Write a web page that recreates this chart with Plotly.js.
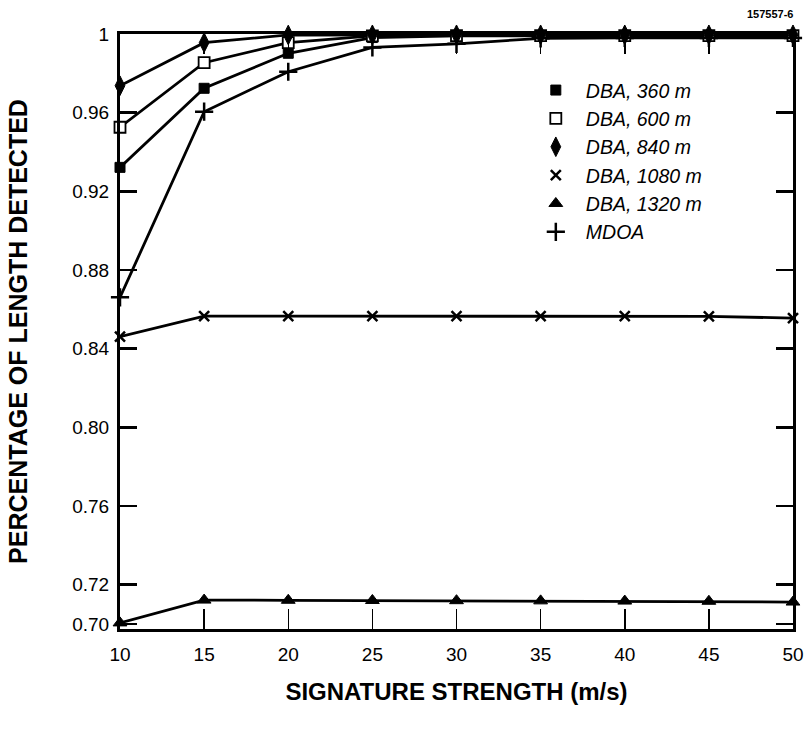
<!DOCTYPE html>
<html>
<head>
<meta charset="utf-8">
<script src="https://cdn.plot.ly/plotly-3.0.1.min.js"></script>
<style>html,body{margin:0;padding:0;background:#fff;}#chart{width:809px;height:736px;}</style>
</head>
<body>
<div id="chart"></div>
<script>
// Data
const signatureStrength = [10, 15, 20, 25, 30, 35, 40, 45, 50];
const dba360  = [0.9322, 0.9724, 0.9902, 0.9982, 0.9990, 0.9992, 0.9992, 0.9992, 0.9992];
const dba600  = [0.9526, 0.9854, 0.9956, 0.9990, 0.9992, 0.9992, 0.9992, 0.9992, 0.9992];
const dba840  = [0.9737, 0.9956, 0.9995, 0.9996, 0.9996, 0.9996, 0.9996, 0.9996, 0.9996];
const dba1080 = [0.8461, 0.8566, 0.8566, 0.8566, 0.8566, 0.8566, 0.8566, 0.8564, 0.8556];
const dba1320 = [0.7006, 0.7122, 0.7121, 0.7120, 0.7119, 0.7118, 0.7117, 0.7116, 0.7112];
const mdoa    = [0.8661, 0.9605, 0.9808, 0.9932, 0.9950, 0.9978, 0.9980, 0.9980, 0.9980];

const seriesNames = ['DBA, 360 m', 'DBA, 600 m', 'DBA, 840 m', 'DBA, 1080 m', 'DBA, 1320 m', 'MDOA'];
const seriesValues = [dba360, dba600, dba840, dba1080, dba1320, mdoa];

const xTickVals = [10, 15, 20, 25, 30, 35, 40, 45, 50];
const yTickVals = [0.70, 0.72, 0.76, 0.80, 0.84, 0.88, 0.92, 0.96, 1.0];
const yTickText = ['0.70', '0.72', '0.76', '0.80', '0.84', '0.88', '0.92', '0.96', '1'];

const markerStyles = [
  {symbol: 'square', size: 10, color: '#000', line: {color: '#000', width: 1}},
  {symbol: 'square', size: 11, color: '#fff', line: {color: '#000', width: 1.8}},
  {symbol: 'diamond-tall', size: 14, color: '#000', line: {color: '#000', width: 1}},
  {symbol: 'x-thin', size: 10, color: '#000', line: {color: '#000', width: 2.5}},
  {symbol: 'triangle-up', size: 12, color: '#000', line: {color: '#000', width: 1}},
  {symbol: 'cross-thin', size: 13, color: '#000', line: {color: '#000', width: 2.5}}
];

const traces = [];
seriesValues.forEach((vals, i) => {
  traces.push({
    x: signatureStrength, y: vals, type: 'scatter', mode: 'lines',
    line: {color: '#000', width: 2.8}, showlegend: false, hoverinfo: 'skip'
  });
});
seriesValues.forEach((vals, i) => {
  traces.push({
    x: signatureStrength, y: vals, type: 'scatter', mode: 'markers',
    name: seriesNames[i], legendgroup: 'g' + i,
    marker: markerStyles[i],
    cliponaxis: false
  });
});

const layout = {
  width: 809, height: 736,
  margin: {l: 120, r: 16, t: 34, b: 107},
  paper_bgcolor: '#fff', plot_bgcolor: '#fff',
  font: {family: 'Liberation Sans, Arial, sans-serif', color: '#000', size: 19},
  showlegend: true,
  legend: {
    x: 0.603, y: 0.938, xanchor: 'left', yanchor: 'top',
    bgcolor: 'rgba(0,0,0,0)', borderwidth: 0,
    font: {family: 'Liberation Sans, Arial, sans-serif', size: 19.5, style: 'italic', color: '#000'},
    traceorder: 'grouped', tracegroupgap: 0, itemwidth: 50
  },
  xaxis: {
    range: [10, 50], tickvals: xTickVals, ticks: 'inside', ticklen: 20, tickwidth: 1.5, tickcolor: '#000',
    showline: true, linewidth: 3, linecolor: '#000', mirror: 'ticks',
    showgrid: false, zeroline: false,
    tickfont: {size: 19}, ticklabelstandoff: 6,
    title: {text: '<b>SIGNATURE STRENGTH (m/s)</b>', font: {size: 24}, standoff: 20}
  },
  yaxis: {
    range: [0.6975, 1.0], tickvals: yTickVals, ticktext: yTickText, ticks: 'inside', ticklen: 17, tickwidth: 2.5, tickcolor: '#000',
    showline: true, linewidth: 3, linecolor: '#000', mirror: 'ticks',
    showgrid: false, zeroline: false,
    tickfont: {size: 19}, ticklabelstandoff: 4,
    title: {text: '<b>PERCENTAGE OF LENGTH DETECTED</b>', font: {size: 25}, standoff: 38}
  },
  annotations: [{
    text: '<b>157557-6</b>', xref: 'paper', yref: 'paper', x: 1.004, y: 1.0, yshift: 20,
    xanchor: 'right', yanchor: 'middle', showarrow: false, font: {size: 11, color: '#000'}
  }]
};

Plotly.newPlot('chart', traces, layout, {displayModeBar: false, staticPlot: true});
</script>
</body>
</html>
